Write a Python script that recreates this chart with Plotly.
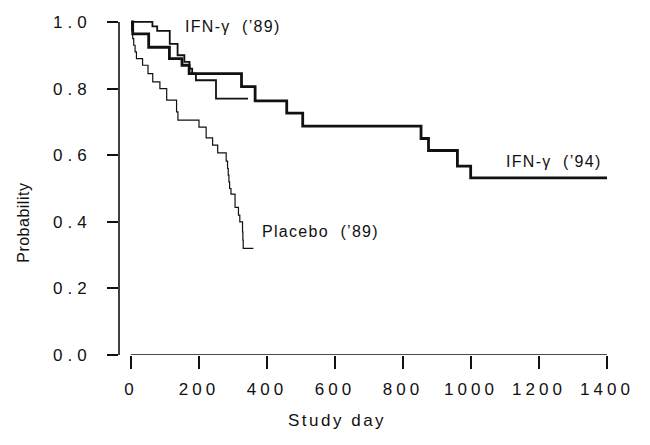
import plotly.graph_objects as go

# ---- data ----
placebo_day = [0, 2, 5, 8, 12, 16, 34, 50, 64, 85, 105, 134, 138, 200, 221, 240, 255, 280, 284, 286, 288, 290, 294, 306, 316, 320, 328, 329, 330, 360]
placebo_prob = [1.0, 0.975, 0.95, 0.93, 0.91, 0.89, 0.87, 0.845, 0.82, 0.80, 0.765, 0.73, 0.705, 0.684, 0.652, 0.63, 0.607, 0.582, 0.56, 0.54, 0.52, 0.50, 0.483, 0.443, 0.42, 0.40, 0.37, 0.345, 0.32, 0.32]

ifn89_day = [0, 63, 77, 114, 137, 157, 172, 180, 191, 250, 344]
ifn89_prob = [1.0, 0.987, 0.973, 0.934, 0.90, 0.88, 0.86, 0.845, 0.825, 0.77, 0.77]

ifn94_day = [0, 5, 52, 113, 150, 171, 325, 365, 458, 505, 853, 875, 960, 999, 1400]
ifn94_prob = [1.0, 0.964, 0.924, 0.89, 0.87, 0.845, 0.806, 0.763, 0.726, 0.687, 0.65, 0.614, 0.567, 0.532, 0.532]

x_ticks = [0, 200, 400, 600, 800, 1000, 1200, 1400]
y_ticks = [0.0, 0.2, 0.4, 0.6, 0.8, 1.0]
y_tick_labels = ["0.0", "0.2", "0.4", "0.6", "0.8", "1.0"]

labels = ["IFN-\u03b3  (\u201989)", "Placebo  (\u201989)", "IFN-\u03b3  (\u201994)"]
label_day = [153, 379, 1097]
label_prob = [0.985, 0.37, 0.582]

INK = "#111111"
FONT = "Liberation Sans, Arial, sans-serif"


def spaced(t, ls):
    return f'<span style="letter-spacing:{ls}px">{t}</span>'


# page has an 8px body margin; figure sized to fit the 650x445 window
OFF = 8
W, H = 650 - OFF, 445 - OFF
L, R, T, B = 119 - OFF, 20, 13 - OFF, 90
pw, ph = W - L - R, H - T - B
plot_left_px, plot_bottom_px = 119, 355  # page coordinates


def paper_x(px):
    return (px - plot_left_px) / pw


def paper_y(py):
    return (plot_bottom_px - py) / ph


fig = go.Figure()
fig.add_trace(go.Scatter(x=placebo_day, y=placebo_prob, mode="lines",
                         line=dict(shape="hv", color=INK, width=1.2), hoverinfo="skip"))
fig.add_trace(go.Scatter(x=ifn89_day, y=ifn89_prob, mode="lines",
                         line=dict(shape="hv", color=INK, width=1.8), hoverinfo="skip"))
fig.add_trace(go.Scatter(x=ifn94_day, y=ifn94_prob, mode="lines",
                         line=dict(shape="hv", color=INK, width=2.8), hoverinfo="skip"))

# axis lines
fig.add_shape(type="line", xref="x", yref="y", x0=x_ticks[0], x1=x_ticks[-1], y0=0, y1=0,
              line=dict(color=INK, width=1.6))
fig.add_shape(type="line", xref="paper", yref="y", x0=0, x1=0, y0=y_ticks[0], y1=y_ticks[-1],
              line=dict(color=INK, width=1.6))

for t, d, p in zip(labels, label_day, label_prob):
    fig.add_annotation(x=d, y=p, xref="x", yref="y", text=spaced(t, 1.3), showarrow=False,
                       xanchor="left", yanchor="middle", font=dict(size=16, color=INK, family=FONT))

# axis titles
fig.add_annotation(x=paper_x(337), y=paper_y(421), xref="paper", yref="paper",
                   text=spaced("Study day", 2.5), showarrow=False,
                   xanchor="center", yanchor="middle",
                   font=dict(size=17, color=INK, family=FONT))
fig.add_annotation(x=paper_x(24), y=paper_y(222), xref="paper", yref="paper",
                   text=spaced("Probability", 0.5), showarrow=False, textangle=-90,
                   xanchor="center", yanchor="middle",
                   font=dict(size=16, color=INK, family=FONT))

fig.update_layout(
    width=W, height=H,
    margin=dict(l=L, r=R, t=T, b=B, pad=0),
    paper_bgcolor="white", plot_bgcolor="white",
    showlegend=False,
    font=dict(family=FONT, color=INK),
    xaxis=dict(range=[-35.3, 1467.6], showline=False, showgrid=False, zeroline=False,
               ticks="outside", ticklen=13, tickwidth=1.5, tickcolor=INK,
               tickvals=x_ticks, ticktext=[spaced(str(v), 4) for v in x_ticks],
               ticklabelstandoff=6,
               tickfont=dict(size=17, color=INK, family=FONT)),
    yaxis=dict(range=[0, 1.0209], showline=False, showgrid=False, zeroline=False,
               ticks="outside", ticklen=11, tickwidth=1.5, tickcolor=INK,
               tickvals=y_ticks, ticktext=[spaced(s, 5) for s in y_tick_labels],
               ticklabelstandoff=12,
               tickfont=dict(size=17, color=INK, family=FONT)),
)

fig.write_html("out.html")
